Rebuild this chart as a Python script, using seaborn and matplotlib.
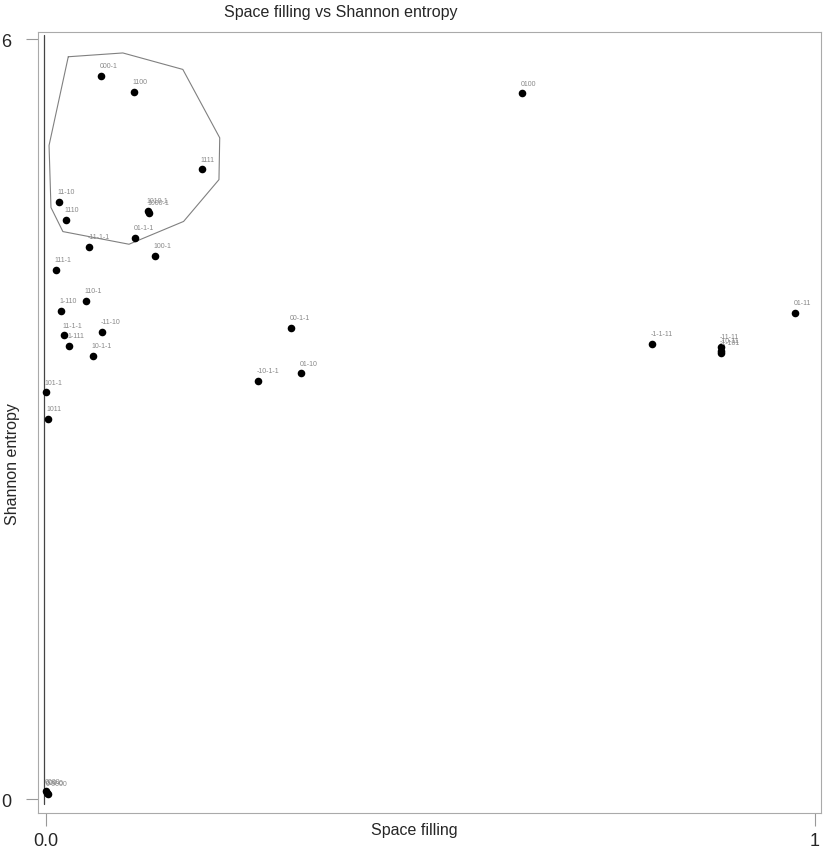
import matplotlib
matplotlib.use("Agg")
import matplotlib.pyplot as plt
import seaborn as sns
import pandas as pd

# Point labels and values
labels = ["000-1", "1100", "1111", "11-10", "1110", "1010-1", "1000-1", "01-1-1",
          "-11-1-1", "100-1", "111-1", "110-1", "1-110", "-11-10", "11-1-1",
          "1-111", "10-1-1", "101-1", "1011", "0100", "00-1-1", "01-10",
          "-10-1-1", "01-11", "-1-1-11", "-11-11", "-10-11", "-1-101",
          "0000", "000-0", "0-0000"]
space_filling = [0.072, 0.114, 0.203, 0.017, 0.026, 0.133, 0.134, 0.116,
                 0.056, 0.142, 0.013, 0.052, 0.020, 0.073, 0.023,
                 0.030, 0.061, 0.000, 0.003, 0.619, 0.319, 0.332,
                 0.276, 0.974, 0.788, 0.878, 0.878, 0.878,
                 0.000, 0.001, 0.002]
entropy = [5.71, 5.58, 4.97, 4.71, 4.57, 4.64, 4.63, 4.43,
           4.36, 4.29, 4.18, 3.93, 3.85, 3.69, 3.66,
           3.58, 3.50, 3.21, 3.00, 5.57, 3.72, 3.36,
           3.30, 3.84, 3.59, 3.57, 3.54, 3.52,
           0.06, 0.05, 0.04]

# outline drawn around the top-left cluster
hull_x = [0.029, 0.100, 0.178, 0.226, 0.225, 0.179, 0.108, 0.022, 0.0065, 0.004, 0.029]
hull_y = [5.86, 5.89, 5.76, 5.22, 4.89, 4.56, 4.38, 4.48, 4.67, 5.16, 5.86]

# vertical guide at x = 0
guide_x = [-0.003, -0.003]
guide_y = [6.03, -0.04]

df = pd.DataFrame({"label": labels, "x": space_filling, "y": entropy})

sns.set_style("white")
plt.rcParams["font.family"] = ["Liberation Sans", "DejaVu Sans"]

fig = plt.figure(figsize=(8.31, 8.54), dpi=100)
ax = fig.add_axes([0.0457, 0.0468, 0.9422, 0.9145])

ax.plot(guide_x, guide_y, color="#444444", lw=0.9)
ax.plot(hull_x, hull_y, color="#808080", lw=0.8)
sns.scatterplot(data=df, x="x", y="y", color="black", s=30, edgecolor="black",
                linewidth=0, ax=ax, zorder=3)

for lab, x, y in zip(labels, space_filling, entropy):
    ax.annotate(lab, (x, y), xytext=(-1, 5), textcoords="offset points",
                ha="left", va="bottom", fontsize=5, color="#888888")

ax.set_xlim(-0.0104, 1.008)
ax.set_ylim(-0.11, 6.055)
ax.set_xticks([0, 1])
ax.set_xticklabels(["0.0", "1"])
ax.set_yticks([0, 6])
ax.set_yticklabels(["0", "6"])
ax.tick_params(bottom=True, left=True, length=9, width=0.8, color="#999999",
               labelsize=13)
ax.tick_params(axis="x", pad=5)
ax.tick_params(axis="y", pad=10)

for sp in ax.spines.values():
    sp.set_color("#aaaaaa")
    sp.set_linewidth(0.8)

ax.set_xlabel("")
ax.set_ylabel("")
fig.text(341 / 831, 1 - 13 / 854, "Space filling vs Shannon entropy",
         ha="center", va="center", fontsize=11.5)
fig.text(414 / 831, 1 - 831 / 854, "Space filling", ha="center", va="center",
         fontsize=11.5)
fig.text(13 / 831, 1 - 464 / 854, "Shannon entropy", ha="center", va="center",
         rotation=90, fontsize=11.5)

fig.savefig("out.png", dpi=100)
